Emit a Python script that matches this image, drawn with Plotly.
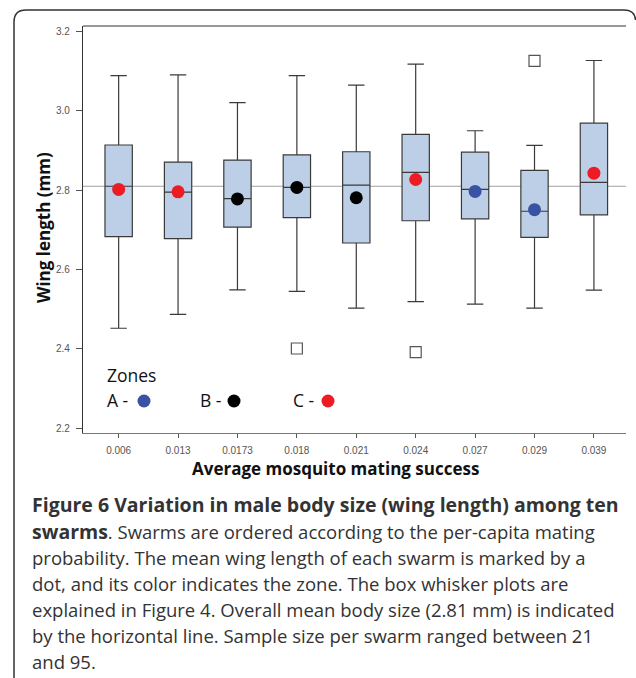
import plotly.graph_objects as go

# ---------------- data ----------------
categories = ["0.006", "0.013", "0.0173", "0.018", "0.021", "0.024", "0.027", "0.029", "0.039"]
upper_whisker = [3.089, 3.091, 3.021, 3.089, 3.065, 3.118, 2.950, 2.913, 3.127]
q3_values     = [2.914, 2.871, 2.876, 2.889, 2.897, 2.941, 2.896, 2.850, 2.969]
medians       = [2.810, 2.795, 2.779, 2.807, 2.813, 2.845, 2.802, 2.747, 2.820]
q1_values     = [2.683, 2.678, 2.707, 2.731, 2.667, 2.723, 2.728, 2.681, 2.738]
lower_whisker = [2.452, 2.487, 2.549, 2.545, 2.503, 2.519, 2.513, 2.503, 2.548]
mean_values   = [2.802, 2.796, 2.778, 2.807, 2.781, 2.827, 2.797, 2.751, 2.843]
zones         = ["C", "C", "B", "B", "B", "C", "A", "A", "C"]
outlier_cats  = ["0.018", "0.024", "0.029"]
outlier_vals  = [2.401, 2.392, 3.126]
overall_mean  = 2.81
y_ticks       = [2.2, 2.4, 2.6, 2.8, 3.0, 3.2]
y_tick_labels = ["2.2", "2.4", "2.6", "2.8", "3.0", "3.2"]
zone_colors   = {"A": "#3853A4", "B": "#000000", "C": "#ED1C24"}
legend_zones  = ["A", "B", "C"]

BOLD = '<b><span style="font-size:19.5px">{}</span></b>'
caption_lines = [
    BOLD.format("Figure 6 Variation in male body size (wing length) among ten"),
    BOLD.format("swarms") + ". Swarms are ordered according to the per-capita mating",
    "probability. The mean wing length of each swarm is marked by a",
    "dot, and its color indicates the zone. The box whisker plots are",
    "explained in Figure 4. Overall mean body size (2.81 mm) is indicated",
    "by the horizontal line. Sample size per swarm ranged between 21",
    "and 95.",
]

# ---------------- layout geometry (pixels) ----------------
W, H = 636, 678
L, R, T, B = 83, 10, 26, 245
PW, PH = W - L - R, H - T - B


def px(xp):
    return (xp - L) / PW


def py(yp):
    return (H - B - yp) / PH


fig = go.Figure()

fig.add_trace(go.Box(
    x=categories,
    q1=q1_values, median=medians, q3=q3_values,
    lowerfence=lower_whisker, upperfence=upper_whisker,
    fillcolor="#BDCFE6",
    line=dict(color="#3a3a3a", width=1.2),
    width=0.46,
    whiskerwidth=0.6,
    boxpoints=False,
    hoverinfo="skip",
    showlegend=False,
))

fig.add_trace(go.Scatter(
    x=outlier_cats, y=outlier_vals, mode="markers",
    marker=dict(symbol="square", size=11, color="white",
                line=dict(color="#555555", width=1.2)),
    showlegend=False, hoverinfo="skip",
))

fig.add_trace(go.Scatter(
    x=categories, y=mean_values, mode="markers",
    marker=dict(size=13, color=[zone_colors[z] for z in zones], line=dict(width=0)),
    showlegend=False, hoverinfo="skip",
))

shapes = []
# overall mean line
shapes.append(dict(type="line", xref="paper", x0=0, x1=1, yref="y", y0=overall_mean, y1=overall_mean,
                   line=dict(color="#a0a0a0", width=1), layer="below"))
# top frame line of plot
shapes.append(dict(type="line", xref="paper", yref="paper", x0=0, x1=1, y0=1, y1=1,
                   line=dict(color="#333333", width=1.2)))
# rounded figure frame
path = (f"M {px(14)},{py(680)} L {px(14)},{py(22)} Q {px(14)},{py(10)} {px(26)},{py(10)} "
        f"L {px(624)},{py(10)} Q {px(635)},{py(10)} {px(635.5)},{py(20)}")
shapes.append(dict(type="path", xref="paper", yref="paper", path=path,
                   line=dict(color="#333333", width=1.5)))

annotations = []
# legend
LEG_FONT = dict(family="Open Sans", size=17.5, color="#111111")
annotations.append(dict(text="Zones", xref="paper", yref="paper", x=px(105), y=py(375),
                        xanchor="left", yanchor="middle", showarrow=False, font=LEG_FONT))
leg_text_x = [105, 198, 291]
leg_dot_x = [144, 234, 328]
for z, tx, dx in zip(legend_zones, leg_text_x, leg_dot_x):
    annotations.append(dict(text=f"{z} -", xref="paper", yref="paper", x=px(tx), y=py(400),
                            xanchor="left", yanchor="middle", showarrow=False, font=LEG_FONT))
    r = 6.5
    shapes.append(dict(type="circle", xref="paper", yref="paper",
                       x0=px(dx - r), x1=px(dx + r), y0=py(401 + r), y1=py(401 - r),
                       fillcolor=zone_colors[z], line=dict(width=0)))

# axis titles
TITLE_FONT = dict(family="Open Sans", size=17, color="#111111")
annotations.append(dict(text="<b>Wing length (mm)</b>", xref="paper", yref="paper",
                        x=px(43), y=py(228), textangle=-90, xanchor="center", yanchor="middle",
                        showarrow=False, font=TITLE_FONT))
annotations.append(dict(text="<b>Average mosquito mating success</b>", xref="paper", yref="paper",
                        x=px(335), y=py(468), xanchor="center", yanchor="middle",
                        showarrow=False, font=TITLE_FONT))

# caption
for i, line in enumerate(caption_lines):
    annotations.append(dict(text=line, xref="paper", yref="paper",
                            x=px(30), y=py(505 + 26 * i), xanchor="left", yanchor="middle",
                            showarrow=False,
                            font=dict(family="Open Sans", size=18.5, color="#333333")))

fig.update_layout(
    width=W, height=H,
    margin=dict(l=L, r=R, t=T, b=B, pad=0),
    paper_bgcolor="white", plot_bgcolor="white",
    shapes=shapes, annotations=annotations,
    xaxis=dict(type="category", range=[-0.6, 8.54], showgrid=False, zeroline=False,
               showline=True, linecolor="#777777", linewidth=1.2,
               ticks="outside", ticklen=4, tickcolor="#555555",
               ticklabelstandoff=4,
               tickfont=dict(family="Liberation Sans", size=10, color="#555555")),
    yaxis=dict(range=[2.188, 3.214], showgrid=False, zeroline=False,
               showline=True, linecolor="#333333", linewidth=1.2,
               ticks="outside", ticklen=6, tickcolor="#555555",
               ticklabelstandoff=4,
               tickvals=y_ticks, ticktext=y_tick_labels,
               tickfont=dict(family="Liberation Sans", size=10, color="#555555")),
)

fig.write_html("out.html")
